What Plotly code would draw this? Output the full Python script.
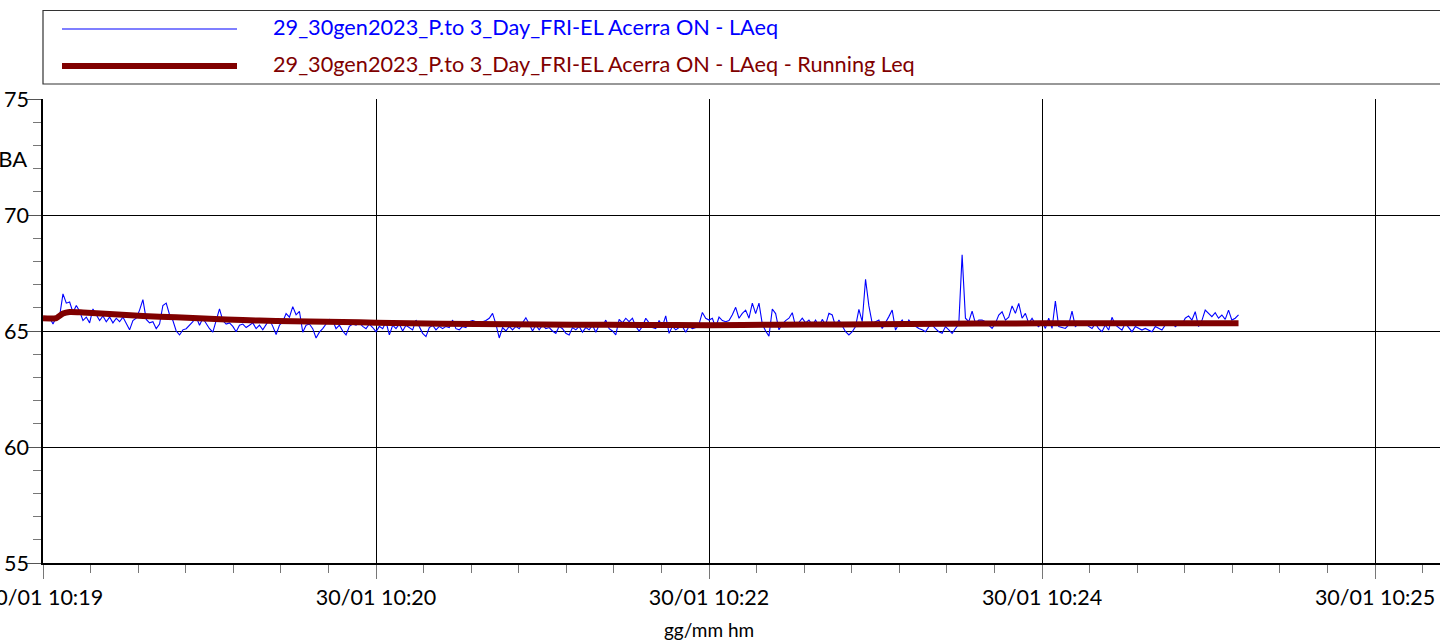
import pandas as pd
import plotly.graph_objects as go

# ---------------- data ----------------
start_time = "2023-01-30 10:19:00"

# LAeq, one value per second from 10:19:00
laeq = [
    65.55, 65.55, 65.58, 65.30, 65.60, 65.65, 66.60, 66.20, 66.25, 65.80,
    66.10, 65.85, 65.45, 65.60, 65.35, 65.95, 65.70, 65.45, 65.65, 65.40,
    65.60, 65.35, 65.55, 65.40, 65.60, 65.30, 65.05, 65.45, 65.55, 65.90,
    66.35, 65.50, 65.35, 65.40, 65.10, 65.30, 66.10, 66.20, 65.70, 65.45,
    65.00, 64.83, 65.05, 65.10, 65.25, 65.40, 65.60, 65.25, 65.55, 65.30,
    65.10, 64.95, 65.40, 65.95, 65.45, 65.30, 65.35, 65.20, 64.97, 65.25,
    65.30, 65.15, 65.25, 65.35, 65.10, 65.25, 65.05, 65.30, 65.50, 65.20,
    64.85, 65.25, 65.40, 65.75, 65.60, 66.05, 65.70, 65.85, 64.95, 65.25,
    65.30, 65.10, 64.70, 64.95, 65.10, 65.30, 65.50, 65.45, 65.10, 65.25,
    65.00, 64.83, 65.20, 65.30, 65.25, 65.35, 65.20, 65.10, 65.30, 65.15,
    64.97, 65.20, 65.10, 65.40, 64.83, 65.25, 65.10, 65.30, 65.00, 65.25,
    65.15, 65.05, 65.47, 65.20, 64.90, 64.76, 65.15, 65.25, 65.05, 65.20,
    65.10, 65.20, 65.15, 65.47, 65.10, 65.05, 65.20, 65.15, 65.40, 65.45,
    65.40, 65.35, 65.40, 65.45, 65.55, 65.76, 65.30, 64.70, 65.15, 65.00,
    65.20, 65.05, 65.20, 65.10, 65.35, 65.57, 65.30, 65.00, 65.25, 65.05,
    65.25, 65.10, 65.15, 65.00, 64.90, 65.20, 65.10, 64.90, 64.83, 65.15,
    65.05, 65.20, 64.95, 65.15, 65.05, 65.25, 64.95, 65.25, 65.20, 65.47,
    65.10, 65.00, 64.83, 65.50, 65.35, 65.55, 65.40, 65.55, 65.20, 65.00,
    65.20, 65.55, 65.35, 65.15, 65.10, 65.45, 65.20, 65.65, 64.90, 65.20,
    65.05, 65.15, 65.20, 64.95, 65.20, 65.10, 65.15, 65.30, 65.80, 65.55,
    65.47, 65.55, 65.15, 65.60, 65.45, 65.40, 65.45, 65.70, 66.02, 65.55,
    65.76, 65.90, 65.55, 66.20, 65.75, 66.20, 65.30, 65.00, 64.78, 65.95,
    65.75, 65.05, 65.30, 65.45, 65.55, 65.79, 65.19, 65.35, 65.55, 65.35,
    65.47, 65.26, 65.47, 65.19, 65.50, 65.26, 65.76, 65.69, 65.19, 65.47,
    65.20, 64.97, 64.83, 64.97, 65.19, 65.93, 65.40, 67.23, 66.08, 65.33,
    65.40, 65.47, 65.11, 65.35, 65.62, 65.90, 65.04, 65.30, 65.47, 65.19,
    65.47, 65.30, 65.19, 65.11, 65.05, 64.97, 65.19, 65.26, 65.10, 64.97,
    64.90, 65.19, 65.05, 64.90, 65.11, 65.30, 68.28, 65.55, 65.40, 65.86,
    65.33, 65.47, 65.47, 65.40, 65.25, 65.11, 65.33, 65.69, 65.83, 65.47,
    65.60, 66.08, 65.76, 66.19, 65.55, 65.76, 65.33, 65.55, 65.30, 65.19,
    65.40, 65.11, 65.55, 65.11, 66.29, 65.19, 65.15, 65.11, 65.26, 65.86,
    65.19, 65.30, 65.26, 65.33, 65.20, 65.11, 65.33, 65.10, 64.97, 65.26,
    65.04, 65.59, 65.26, 65.15, 65.04, 65.33, 65.15, 64.97, 65.19, 65.10,
    65.04, 65.11, 65.05, 64.97, 65.19, 65.10, 65.04, 65.26, 65.30, 65.40,
    65.19, 65.30, 65.26, 65.55, 65.65, 65.47, 65.83, 65.19, 65.45, 65.90,
    65.76, 65.62, 65.79, 65.55, 65.69, 65.50, 65.90, 65.47, 65.55, 65.70,
]

# Running Leq (seconds from start, dB)
running_sec = [0, 4, 6, 8, 12, 20, 30, 40, 50, 60, 70, 80, 90, 100, 110, 120,
               140, 160, 180, 200, 220, 240, 260, 280, 300, 320, 340, 359]
running_leq = [65.55, 65.56, 65.75, 65.82, 65.80, 65.73, 65.65, 65.59, 65.53, 65.47,
               65.43, 65.41, 65.39, 65.36, 65.33, 65.31, 65.29, 65.27, 65.26, 65.25,
               65.27, 65.28, 65.30, 65.32, 65.33, 65.33, 65.33, 65.33]

tick_sec = [0, 100, 200, 300, 400]
tick_text = ["30/01 10:19", "30/01 10:20", "30/01 10:22", "30/01 10:24", "30/01 10:25"]

name_laeq = "29_30gen2023_P.to 3_Day_FRI-EL Acerra ON - LAeq"
name_run = "29_30gen2023_P.to 3_Day_FRI-EL Acerra ON - LAeq - Running Leq"

BLUE = "#0000FF"
MAROON = "#800000"
FONT = "Lato"

# ---------------- figure ----------------
t0 = pd.Timestamp(start_time)
t_laeq = [t0 + pd.Timedelta(seconds=i) for i in range(len(laeq))]
t_run = [t0 + pd.Timedelta(seconds=s) for s in running_sec]
tickvals = [t0 + pd.Timedelta(seconds=s) for s in tick_sec]

fig = go.Figure()
fig.add_trace(go.Scatter(x=t_laeq, y=laeq, mode="lines", name=name_laeq,
                         line=dict(color=BLUE, width=1.1), showlegend=False))
fig.add_trace(go.Scatter(x=t_run, y=running_leq, mode="lines", name=name_run,
                         line=dict(color=MAROON, width=6, shape="spline", smoothing=0.6),
                         showlegend=False))

W, H = 1440, 641
L, R, T, B = 43, 0, 99, 78
pw, ph = W - L - R, H - T - B


def px(x):
    return (x - L) / pw


def py(y):
    return (H - B - y) / ph


shapes = [
    dict(type="rect", xref="paper", yref="paper", x0=0, x1=1.1, y0=py(84), y1=py(10.5),
         line=dict(color="#333333", width=1.2), fillcolor="rgba(0,0,0,0)", layer="above"),
    dict(type="line", xref="paper", yref="paper", x0=px(62), x1=px(237), y0=py(29), y1=py(29),
         line=dict(color=BLUE, width=1.2)),
    dict(type="line", xref="paper", yref="paper", x0=px(62), x1=px(237), y0=py(66), y1=py(66),
         line=dict(color=MAROON, width=6)),
]

annotations = [
    dict(text=name_laeq, xref="paper", yref="paper", x=px(271), y=py(27), xanchor="left",
         yanchor="middle", showarrow=False, font=dict(family=FONT, size=21.7, color=BLUE)),
    dict(text=name_run, xref="paper", yref="paper", x=px(271), y=py(64), xanchor="left",
         yanchor="middle", showarrow=False, font=dict(family=FONT, size=21.7, color=MAROON)),
    dict(text="dBA", xref="paper", yref="paper", x=px(29), y=py(158), xanchor="right",
         yanchor="middle", showarrow=False, font=dict(family=FONT, size=22, color="black")),
    dict(text="gg/mm hm", xref="paper", yref="paper", x=px(709), y=py(629), xanchor="center",
         yanchor="middle", showarrow=False, font=dict(family=FONT, size=19, color="black")),
]

fig.update_layout(
    width=W, height=H,
    margin=dict(l=L, r=R, t=T, b=B, pad=0, autoexpand=False),
    paper_bgcolor="white", plot_bgcolor="white",
    font=dict(family=FONT, size=21, color="black"),
    shapes=shapes, annotations=annotations,
    showlegend=False,
)

fig.update_xaxes(
    type="date", automargin=False,
    range=[t0, t0 + pd.Timedelta(seconds=419.5)],
    tickmode="array", tickvals=tickvals, ticktext=tick_text,
    ticklabeloverflow="allow",
    showgrid=True, gridcolor="black", gridwidth=1.4,
    showline=True, linecolor="black", linewidth=2,
    ticks="outside", ticklen=14, tickcolor="#777777", tickwidth=1,
    tickfont=dict(family=FONT, size=21.5, color="black"),
    minor=dict(tick0=t0, dtick=100000 / 7, ticks="outside", ticklen=8,
               tickcolor="#777777", showgrid=False),
    zeroline=False,
)

fig.update_yaxes(
    range=[55, 75], dtick=5, tick0=55, automargin=False,
    showgrid=True, gridcolor="black", gridwidth=1.4,
    showline=True, linecolor="black", linewidth=1.5,
    ticks="outside", ticklen=14, tickcolor="#555555", tickwidth=1,
    ticklabelstandoff=-6,
    tickfont=dict(family=FONT, size=21.5, color="black"),
    minor=dict(dtick=1, ticks="outside", ticklen=8, tickcolor="#777777", showgrid=False),
    zeroline=False,
)

fig.write_html("out.html")
